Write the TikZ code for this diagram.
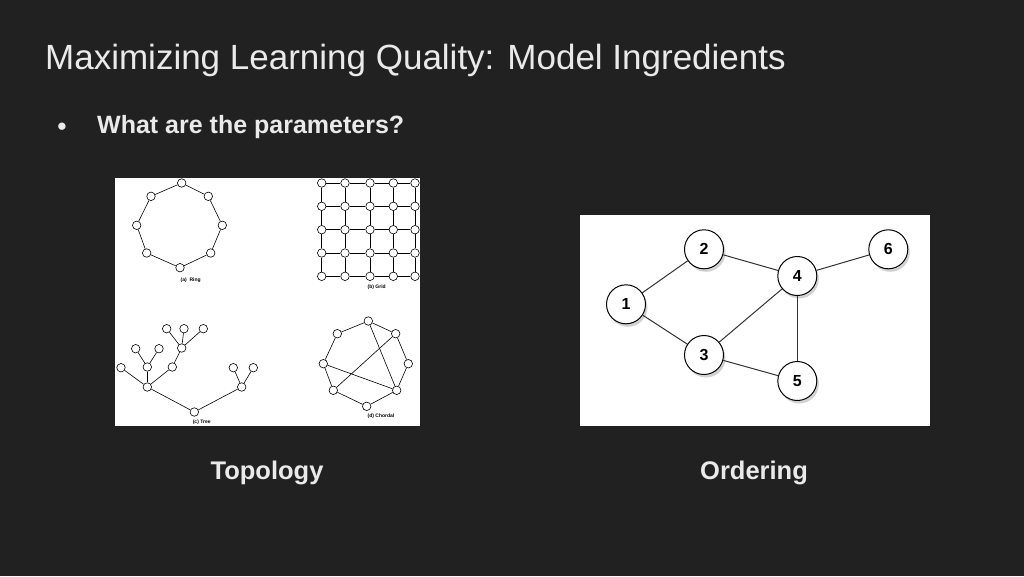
\documentclass[tikz,border=0pt]{standalone}
\usepackage{fontspec}
\setmainfont{Liberation Sans}
\usetikzlibrary{shadows}
\definecolor{bg}{HTML}{212121}
\definecolor{fg}{HTML}{EAEAEA}
\begin{document}
\begin{tikzpicture}[x=1pt,y=-1pt,
  sn/.style={circle,draw=black,fill=white,line width=0.6pt,minimum size=8.5pt,inner sep=0pt},
  big/.style={circle,draw=black,fill=white,line width=1pt,minimum size=39pt,inner sep=0pt,font=\bfseries\fontsize{16}{16}\selectfont,drop shadow={shadow xshift=2pt,shadow yshift=-3pt,opacity=0.35}},
  caplbl/.style={font=\bfseries\fontsize{5}{5}\selectfont,inner sep=0pt},
  ed/.style={line width=0.6pt},
  bed/.style={line width=1pt,draw=black!80}]
\fill[bg] (0,0) rectangle (1024,576);
\useasboundingbox (0,0) rectangle (1024,576);
\node[anchor=west,text=fg,font=\fontsize{35}{35}\selectfont,inner sep=0pt] (title) at (45,60) {Maximizing Learning Quality: Model Ingredients};
\node[text=fg,font=\fontsize{17}{17}\selectfont,inner sep=0pt] (bul) at (62,127) {●};
\node[anchor=west,text=fg,font=\bfseries\fontsize{25}{25}\selectfont,inner sep=0pt] (q) at (97,127) {What are the parameters?};
\node[text=fg,font=\bfseries\fontsize{25.5}{25.5}\selectfont,inner sep=0pt] (t1) at (267,473) {Topology};
\node[text=fg,font=\bfseries\fontsize{25.5}{25.5}\selectfont,inner sep=0pt] (t2) at (754,473) {Ordering};
% topology panel
\fill[white] (115,178) rectangle (420,426);
% ring
\foreach \i/\x/\y in {1/181.7/183,2/208.3/196.3,3/222.3/225.3,4/210.7/253,5/180/267.7,6/146.7/253,7/136.7/225.3,8/151/196.3}
  \node[sn] (r\i) at (\x,\y) {};
\foreach \a/\b in {1/2,2/3,3/4,4/5,5/6,6/7,7/8,8/1} \draw[ed] (r\a)--(r\b);
\node[caplbl] (ca) at (190.7,280.3) {(a)\ \ Ring};
% grid
\foreach \i/\x in {1/321.7,2/345,3/370,4/393.3,5/415}
  \foreach \j/\y in {1/183,2/206.3,3/229.7,4/253,5/276.3}
    \node[sn] (g\i\j) at (\x,\y) {};
\foreach \i in {1,...,5}{\foreach \j/\k in {1/2,2/3,3/4,4/5}{\draw[ed] (g\i\j)--(g\i\k); \draw[ed] (g\j\i)--(g\k\i);}}
\node[caplbl] (cb) at (376.7,287.7) {(b) Grid};
% tree
\foreach \n/\x/\y in {root/194.3/412,L/147.3/387,R/241.7/387,Ra/233.3/367.7,Rb/253.3/367.7,La/121/367.7,Lb/147.3/367,Lc/172.3/367,Lba/135.7/348.7,Lbb/159/348.7,Lca/181.7/348,Lcaa/166.7/328.7,Lcab/184/328.7,Lcac/203.3/328.7}
  \node[sn] (\n) at (\x,\y) {};
\foreach \a/\b in {root/L,root/R,R/Ra,R/Rb,L/La,L/Lb,L/Lc,Lb/Lba,Lb/Lbb,Lc/Lca,Lca/Lcaa,Lca/Lcab,Lca/Lcac} \draw[ed] (\a)--(\b);
\node[caplbl] (cc) at (201.7,422) {(c) Tree};
% chordal
\foreach \i/\x/\y in {1/368.3/321,2/395.7/333.7,3/408.3/363.7,4/396.7/390.3,5/366.7/406.3,6/333.3/390.3,7/323.3/363.7,8/337.3/333.7}
  \node[sn] (c\i) at (\x,\y) {};
\foreach \a/\b in {1/2,2/3,3/4,4/5,5/6,6/7,7/8,8/1,1/4,2/6,7/4} \draw[ed] (c\a)--(c\b);
\node[caplbl] (cd) at (381,416) {(d) Chordal};
% ordering panel
\fill[white] (580,215) rectangle (930,426);
\node[big] (n1) at (626,304.3) {1};
\node[big] (n2) at (704,249.3) {2};
\node[big] (n4) at (797.3,276) {4};
\node[big] (n6) at (888.3,249.3) {6};
\node[big] (n3) at (704,355) {3};
\node[big] (n5) at (797.3,381) {5};
\foreach \a/\b in {1/2,1/3,2/4,4/6,3/4,4/5,3/5} \draw[bed] (n\a)--(n\b);
\end{tikzpicture}
\end{document}
